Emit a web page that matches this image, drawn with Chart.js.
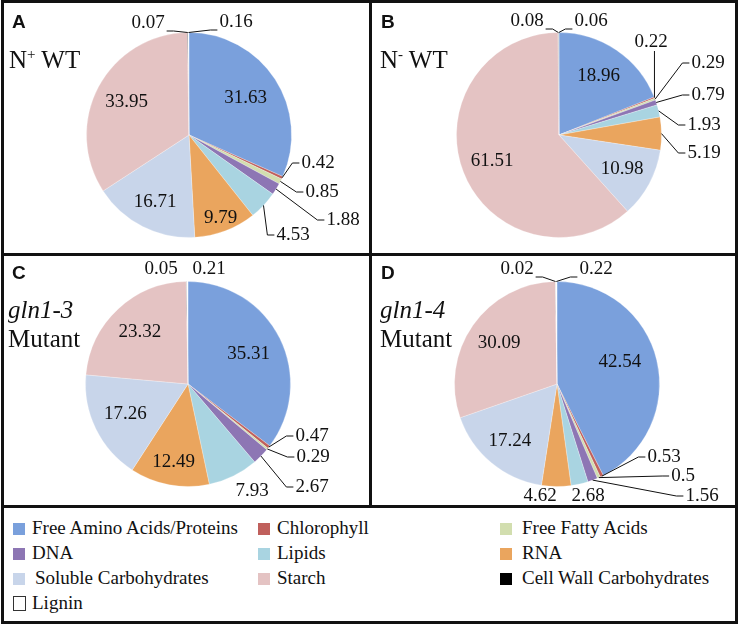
<!DOCTYPE html>
<html>
<head>
<meta charset="utf-8">
<script src="https://cdn.jsdelivr.net/npm/chart.js@4"></script>
<style>
  body { margin: 0; background: #fff; }
  #fig { position: relative; width: 742px; height: 627px; font-family: "Liberation Serif", "Times New Roman", serif; color: #111; overflow: hidden; }
  #fig canvas { position: absolute; }
  .line { position: absolute; background: #111; z-index: 5; }
  .letter { position: absolute; font: bold 19px "Liberation Sans", Arial, sans-serif; line-height: 19px; }
  .sub { position: absolute; font-size: 25px; line-height: 29px; white-space: nowrap; }
  .sub sup { font-size: 15px; vertical-align: 9px; line-height: 0; }
  .leg { position: absolute; font-size: 19px; line-height: 25px; white-space: nowrap; }
  .sw { position: absolute; width: 12px; height: 12px; box-sizing: border-box; }
</style>
</head>
<body>
<div id="fig">
  <div class="line" style="left:1px;top:0;width:737px;height:3px"></div>
  <div class="line" style="left:1px;top:621px;width:737px;height:3px"></div>
  <div class="line" style="left:1px;top:0;width:3px;height:624px"></div>
  <div class="line" style="left:735px;top:0;width:3px;height:624px"></div>
  <div class="line" style="left:1px;top:253px;width:737px;height:3px"></div>
  <div class="line" style="left:1px;top:505px;width:737px;height:3px"></div>
  <div class="line" style="left:369px;top:0;width:3px;height:507px"></div>

  <canvas id="pieA"></canvas>
  <canvas id="pieB"></canvas>
  <canvas id="pieC"></canvas>
  <canvas id="pieD"></canvas>

  <div class="letter" style="left:12px;top:12px">A</div>
  <div class="letter" style="left:381px;top:12px">B</div>
  <div class="letter" style="left:12px;top:263px">C</div>
  <div class="letter" style="left:381px;top:263px">D</div>

  <div class="sub" style="left:9px;top:45px">N<sup>+</sup> WT</div>
  <div class="sub" style="left:380px;top:45px">N<sup>-</sup> WT</div>
  <div class="sub" style="left:8px;top:295px"><i>gln1-3</i><br>Mutant</div>
  <div class="sub" style="left:380px;top:295px"><i>gln1-4</i><br>Mutant</div>

  <div id="legend"></div>
</div>
<script>
// categories, in slice order (clockwise from 12 o'clock)
const categories = ['Free Amino Acids/Proteins', 'Chlorophyll', 'Free Fatty Acids', 'DNA', 'Lipids', 'RNA',
  'Soluble Carbohydrates', 'Starch', 'Cell Wall Carbohydrates', 'Lignin'];

// percent of total, per panel
const nPlusWT  = [31.63, 0.42, 0.85, 1.88, 4.53, 9.79, 16.71, 33.95, 0.07, 0.16];
const nMinusWT = [18.96, 0.22, 0.29, 0.79, 1.93, 5.19, 10.98, 61.51, 0.08, 0.06];
const gln13    = [35.31, 0.47, 0.29, 2.67, 7.93, 12.49, 17.26, 23.32, 0.05, 0.21];
const gln14    = [42.54, 0.53, 0.5, 1.56, 2.68, 4.62, 17.24, 30.09, 0.02, 0.22];

const colors = ['#7aa0dc', '#c0605c', '#d2deaf', '#8d76b4', '#a9d4e1', '#eaa55e',
  '#c8d5ea', '#e4c3c3', '#000000', '#ffffff'];

// label placement: r = fraction of radius along mid angle, or dx/dy from centre with a leader
const labelsA = [{r: 0.66}, {dx: 129, dy: 28, lead: 'left'}, {dx: 133, dy: 57, lead: 'left'},
  {dx: 154, dy: 85, lead: 'left'}, {dx: 104, dy: 100, lead: 'left'}, {r: 0.87}, {r: 0.73}, {r: 0.69},
  {dx: -41, dy: -112, lead: 'right', ly: 8}, {dx: 47, dy: -113, lead: 'left', ly: 8}];
const labelsB = [{r: 0.69}, {dx: 92, dy: -93, lead: 'bottom'}, {dx: 149, dy: -72, lead: 'left'},
  {dx: 149, dy: -40, lead: 'left'}, {dx: 145, dy: -10, lead: 'left'}, {dx: 145, dy: 18, lead: 'left'},
  {r: 0.70}, {r: 0.70}, {dx: -32, dy: -114, lead: 'right', ly: 8}, {dx: 32, dy: -114, lead: 'left', ly: 8}];
const labelsC = [{r: 0.66}, {dx: 124, dy: 52, lead: 'left'}, {dx: 125, dy: 73, lead: 'left'},
  {dx: 124, dy: 103, lead: 'left'}, {dx: 64, dy: 107}, {r: 0.77}, {r: 0.68}, {r: 0.69},
  {dx: -27, dy: -115}, {dx: 21, dy: -115}];
const labelsD = [{r: 0.65, da: -6}, {dx: 107, dy: 73, lead: 'left'}, {dx: 126, dy: 92, lead: 'left'},
  {dx: 145, dy: 112, lead: 'left'}, {dx: 31, dy: 112}, {dx: -17, dy: 112}, {r: 0.72}, {r: 0.69},
  {dx: -40, dy: -115, lead: 'right', ly: 8}, {dx: 39, dy: -115, lead: 'left', ly: 8}];

const sliceLabels = {
  id: 'sliceLabels',
  afterDatasetsDraw(chart, args, opts) {
    const ctx = chart.ctx;
    const meta = chart.getDatasetMeta(0);
    const values = chart.data.datasets[0].data;
    ctx.save();
    ctx.font = '19px "Liberation Serif", "Times New Roman", serif';
    ctx.fillStyle = '#111';
    ctx.strokeStyle = '#111';
    ctx.lineWidth = 1;
    ctx.textAlign = 'center';
    ctx.textBaseline = 'middle';
    meta.data.forEach((arc, i) => {
      const s = opts.spec[i];
      if (!s) return;
      const p = arc.getProps(['x', 'y', 'startAngle', 'endAngle', 'outerRadius'], true);
      const m0 = (p.startAngle + p.endAngle) / 2;
      let tx, ty;
      if (s.r != null) {
        const m = m0 + (s.da || 0) * Math.PI / 180;
        tx = p.x + Math.cos(m) * p.outerRadius * s.r;
        ty = p.y + Math.sin(m) * p.outerRadius * s.r;
      } else {
        tx = p.x + s.dx;
        ty = p.y + s.dy;
      }
      const txt = String(values[i]);
      ctx.fillText(txt, tx, ty);
      if (s.lead) {
        const ex = p.x + Math.cos(m0) * p.outerRadius;
        const ey = p.y + Math.sin(m0) * p.outerRadius;
        const w = ctx.measureText(txt).width;
        ctx.beginPath();
        ctx.moveTo(ex, ey);
        if (s.lead === 'bottom') {
          ctx.lineTo(ex, ty + 9);
        } else {
          const dir = s.lead === 'left' ? -1 : 1;
          const ax = tx + dir * (w / 2 + 2), ay = ty + (s.ly || 0);
          ctx.lineTo(ax + dir * 7, ay);
          ctx.lineTo(ax, ay);
        }
        ctx.stroke();
      }
    });
    ctx.restore();
  }
};

// canvas box [left, top, width, height] and pie centre, in page pixels
const R = 102.5;
function drawPie(id, values, spec, box, center) {
  const cv = document.getElementById(id);
  cv.width = box[2]; cv.height = box[3];
  cv.style.left = box[0] + 'px'; cv.style.top = box[1] + 'px';
  const rx = center[0] - box[0], ry = center[1] - box[1];
  new Chart(cv, {
    type: 'pie',
    data: {
      labels: categories,
      datasets: [{
        data: values,
        backgroundColor: colors,
        borderColor: 'rgba(255,255,255,0.5)',
        borderWidth: 0.5,
        radius: R
      }]
    },
    options: {
      responsive: false,
      animation: false,
      layout: { padding: { left: rx - R, right: box[2] - rx - R, top: ry - R, bottom: box[3] - ry - R } },
      plugins: {
        legend: { display: false },
        tooltip: { enabled: false },
        sliceLabels: { spec: spec }
      }
    },
    plugins: [sliceLabels]
  });
}

drawPie('pieA', nPlusWT, labelsA, [3, 3, 366, 250], [189, 135]);
drawPie('pieB', nMinusWT, labelsB, [372, 3, 363, 250], [559, 135]);
drawPie('pieC', gln13, labelsC, [3, 256, 366, 249], [188, 384]);
drawPie('pieD', gln14, labelsD, [372, 256, 363, 249], [557, 384]);

// legend, three columns
const legend = document.getElementById('legend');
const colX = [13, 258, 500];
const textGap = [19, 19, 22];
categories.forEach((name, i) => {
  const col = i % 3, row = Math.floor(i / 3);
  const base = 534 + row * 25;
  const sw = document.createElement('div');
  sw.className = 'sw';
  sw.style.left = colX[col] + 'px';
  sw.style.top = (base - 11) + 'px';
  sw.style.background = colors[i];
  if (colors[i] === '#ffffff') {
    sw.style.border = '1px solid #333';
    sw.style.width = '13px';
    sw.style.height = '15px';
    sw.style.top = (base - 13) + 'px';
  }
  legend.appendChild(sw);
  const t = document.createElement('div');
  t.className = 'leg';
  t.textContent = name;
  // the reference sets "Soluble Carbohydrates" a little to the right
  t.style.left = (colX[col] + textGap[col] + (i === 6 ? 3 : 0)) + 'px';
  t.style.top = (base - 19) + 'px';
  legend.appendChild(t);
});
</script>
</body>
</html>
